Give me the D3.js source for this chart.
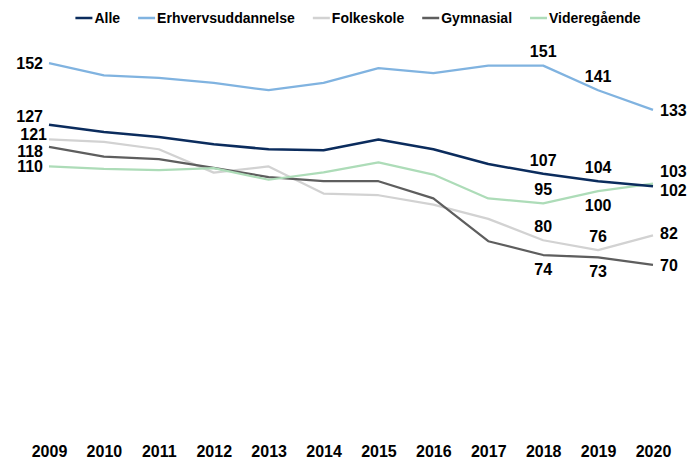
<!DOCTYPE html>
<html>
<head>
<meta charset="utf-8">
<script src="https://cdn.jsdelivr.net/npm/d3@7"></script>
<style>
  body { margin: 0; background: #fff; }
  svg text { font-family: "Liberation Sans", Arial, sans-serif; font-weight: bold; fill: #000; }
</style>
</head>
<body>
<svg id="chart" width="689" height="459"></svg>
<script>
var years = [2009, 2010, 2011, 2012, 2013, 2014, 2015, 2016, 2017, 2018, 2019, 2020];
var seriesNames = ["Alle", "Erhvervsuddannelse", "Folkeskole", "Gymnasial", "Videregående"];

var alle = [127, 124, 122, 119, 117, 116.6, 121, 117, 111, 107, 104, 102];
var erhverv = [152, 147, 146, 144, 141, 144, 150, 148, 151, 151, 141, 133];
var folkeskole = [121, 120, 117, 107.5, 110, 99, 98.3, 94.5, 88.7, 80, 76, 82];
var gymnasial = [118, 114, 113, 109.4, 105.7, 104, 104, 97, 79.6, 74, 73, 70];
var videregaaende = [110, 109, 108.5, 109.3, 104.6, 107.6, 111.7, 106.7, 97, 95, 100, 103];

var colors = ["#0b2c5d", "#80b3e0", "#d2d2d2", "#5e5e5e", "#addcb8"];

var data = [alle, erhverv, folkeskole, gymnasial, videregaaende];

// which points get a label, and where (a = above, b = below, l = left, r = right)
var labelSpec = [
  [[0, "l", 0, -8], [9, "a"], [10, "a"], [11, "r", 0, 4]],
  [[0, "l", 0, 0], [9, "a"], [10, "a"], [11, "r", 0, 0]],
  [[0, "l", 4, -5], [9, "a"], [10, "a"], [11, "r", 0, -2]],
  [[0, "l", 0, 4], [9, "b"], [10, "b"], [11, "r", 0, 0]],
  [[0, "l", 0, 0], [9, "a", 0, 0], [10, "b"], [11, "r", 0, -12]]
];

var svg = d3.select("#chart");

var x = d3.scalePoint()
    .domain(years)
    .range([49, 653]);

var y = d3.scaleLinear()
    .domain([0, 160])
    .range([437, 43.5]);

var line = d3.line()
    .x(function(d, i) { return x(years[i]); })
    .y(function(d) { return y(d); });

// x axis labels only, no line
var xAxis = d3.axisBottom(x).tickSize(0).tickPadding(0);
var gx = svg.append("g")
    .attr("transform", "translate(0,446)")
    .call(xAxis);
gx.select(".domain").remove();
gx.selectAll("text")
    .style("font-size", "16px")
    .attr("dy", "0.71em");

// lines, drawn so Alle ends on top
var order = [1, 2, 3, 4, 0];
order.forEach(function(k) {
  svg.append("path")
      .datum(data[k])
      .attr("d", line)
      .attr("fill", "none")
      .attr("stroke", colors[k])
      .attr("stroke-width", k == 0 ? 2.5 : 2.25)
      .attr("stroke-linejoin", "round");
});

// data labels
data.forEach(function(vals, k) {
  labelSpec[k].forEach(function(s) {
    var i = s[0], pos = s[1], dx = s[2] || 0, dy = s[3] || 0;
    var px = x(years[i]), py = y(vals[i]);
    var anchor = "middle";
    if (pos == "a") py -= 14;
    if (pos == "b") py += 14;
    if (pos == "l") { px -= 6; anchor = "end"; }
    if (pos == "r") { px += 7; anchor = "start"; }
    svg.append("text")
        .attr("x", px + dx)
        .attr("y", py + dy)
        .attr("dy", "0.36em")
        .attr("text-anchor", anchor)
        .style("font-size", "16px")
        .text(Math.round(vals[i]));
  });
});

// legend
var legend = svg.append("g").attr("class", "legend");
var lx = 0;
seriesNames.forEach(function(name, k) {
  var g = legend.append("g").attr("transform", "translate(" + lx + ",0)");
  g.append("line")
      .attr("x1", 0).attr("x2", 17)
      .attr("y1", 18).attr("y2", 18)
      .attr("stroke", colors[k])
      .attr("stroke-width", 2.5);
  var t = g.append("text")
      .attr("x", 19)
      .attr("y", 18)
      .attr("dy", "0.36em")
      .style("font-size", "14px")
      .text(name);
  lx += 19 + t.node().getComputedTextLength() + 18;
});
var lw = lx - 18;
legend.attr("transform", "translate(" + (358 - lw / 2) + ",0)");
</script>
</body>
</html>
